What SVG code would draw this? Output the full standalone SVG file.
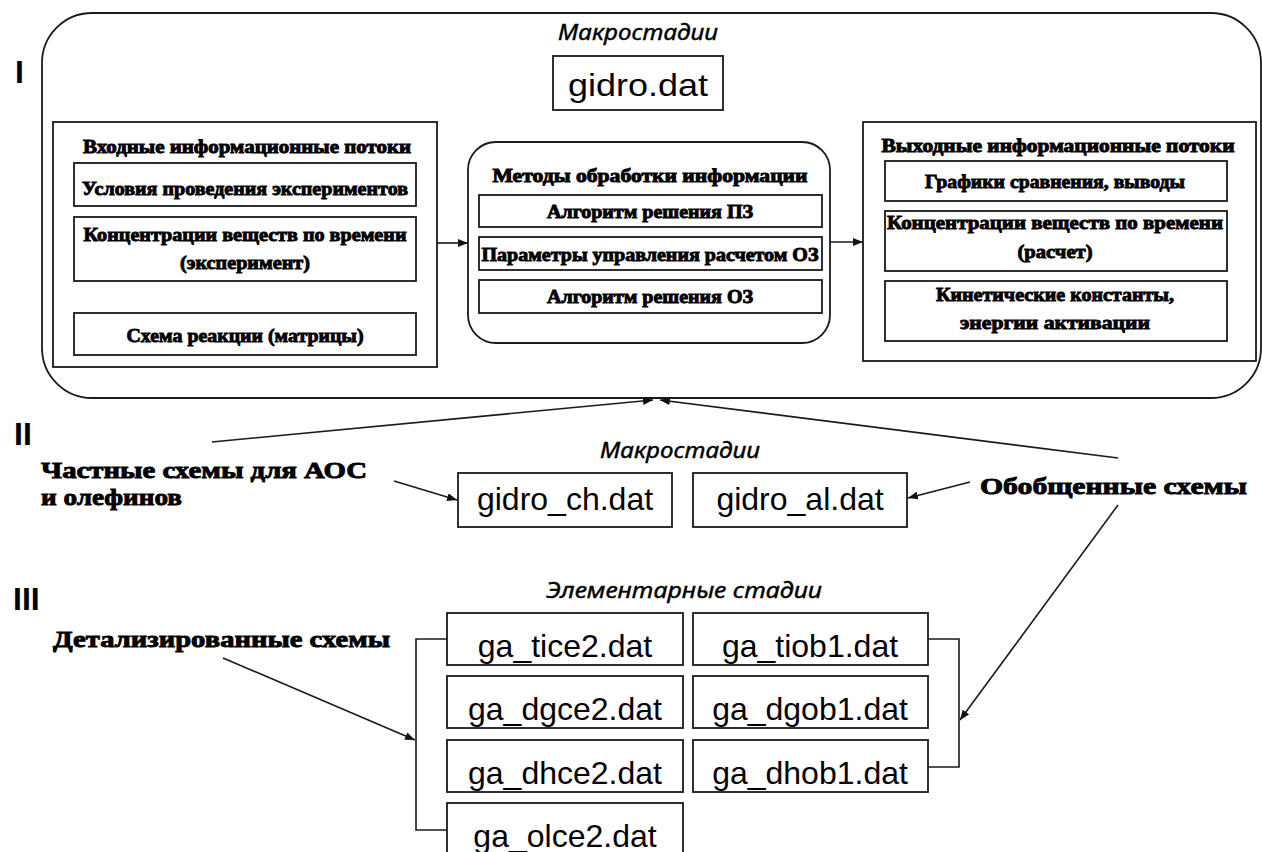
<svg xmlns="http://www.w3.org/2000/svg" width="1262" height="852" viewBox="0 0 1262 852">
<defs>
<marker id="ah" viewBox="0 0 10 8" refX="10" refY="4" markerWidth="10" markerHeight="8" markerUnits="userSpaceOnUse" orient="auto">
<path d="M0,0 L10,4 L0,8 Z" fill="#111"/>
</marker>
<style>
.box{fill:#fff;stroke:#1a1a1a;stroke-width:1.8}
.ln{fill:none;stroke:#1a1a1a;stroke-width:1.6}
.arr{fill:none;stroke:#1a1a1a;stroke-width:1.6;marker-end:url(#ah)}
.rb{font-family:"Liberation Serif","Times New Roman",serif;font-weight:bold;fill:#000;stroke:#000;stroke-width:0.9}
.fn{font-family:"Liberation Sans",Arial,sans-serif;font-size:32px;fill:#000}
.it{font-family:"Noto Sans","Liberation Sans",Arial,sans-serif;font-style:italic;font-size:21px;fill:#000;stroke:#000;stroke-width:0.4}
.num{font-family:"Liberation Sans",Arial,sans-serif;font-weight:bold;font-size:32px;fill:#000}
</style>
</defs>
<rect width="1262" height="852" fill="#fff"/>

<g id="levels">
<text class="num" x="15" y="83">I</text>
<text class="num" x="14" y="445">II</text>
<text class="num" x="13" y="610">III</text>
</g>

<g id="macro-top">
<rect class="box" x="42" y="13" width="1219" height="385" rx="50" ry="50"/>
<text class="it" x="638" y="40" text-anchor="middle" textLength="160" lengthAdjust="spacingAndGlyphs">Макростадии</text>
</g>

<g id="gidro">
<rect class="box" x="553" y="56" width="170" height="54"/>
<text class="fn" x="638" y="96" font-size="35" text-anchor="middle" textLength="140" lengthAdjust="spacingAndGlyphs">gidro.dat</text>
</g>

<g id="input">
<rect class="box" x="53" y="122" width="384" height="245"/>
<text class="rb" x="247" y="153" font-size="18" text-anchor="middle" textLength="328" lengthAdjust="spacingAndGlyphs">Входные информационные потоки</text>
<rect class="box" x="74" y="163" width="342" height="43"/>
<text class="rb" x="245" y="195" font-size="19" text-anchor="middle" textLength="326" lengthAdjust="spacingAndGlyphs">Условия проведения экспериментов</text>
<rect class="box" x="74" y="217" width="342" height="64"/>
<text class="rb" x="245" y="241" font-size="19" text-anchor="middle" textLength="323" lengthAdjust="spacingAndGlyphs">Концентрации веществ по времени</text>
<text class="rb" x="245" y="269" font-size="19" text-anchor="middle" textLength="130" lengthAdjust="spacingAndGlyphs">(эксперимент)</text>
<rect class="box" x="74" y="313" width="342" height="42"/>
<text class="rb" x="245" y="342" font-size="19" text-anchor="middle" textLength="237" lengthAdjust="spacingAndGlyphs">Схема реакции (матрицы)</text>
</g>

<g id="methods">
<rect class="box" x="468" y="142" width="362" height="201" rx="28" ry="28"/>
<text class="rb" x="650" y="182" font-size="18" text-anchor="middle" textLength="315" lengthAdjust="spacingAndGlyphs">Методы обработки информации</text>
<rect class="box" x="479" y="195" width="343" height="32"/>
<text class="rb" x="650" y="218" font-size="19" text-anchor="middle" textLength="206" lengthAdjust="spacingAndGlyphs">Алгоритм решения ПЗ</text>
<rect class="box" x="479" y="237" width="343" height="33"/>
<text class="rb" x="650" y="261" font-size="19" text-anchor="middle" textLength="337" lengthAdjust="spacingAndGlyphs">Параметры управления расчетом ОЗ</text>
<rect class="box" x="479" y="280" width="343" height="33"/>
<text class="rb" x="650" y="303" font-size="19" text-anchor="middle" textLength="206" lengthAdjust="spacingAndGlyphs">Алгоритм решения ОЗ</text>
</g>

<g id="output">
<rect class="box" x="863" y="122" width="393" height="239"/>
<text class="rb" x="1058" y="152" font-size="18" text-anchor="middle" textLength="353" lengthAdjust="spacingAndGlyphs">Выходные информационные потоки</text>
<rect class="box" x="885" y="161" width="342" height="40"/>
<text class="rb" x="1055" y="188" font-size="19" text-anchor="middle" textLength="260" lengthAdjust="spacingAndGlyphs">Графики сравнения, выводы</text>
<rect class="box" x="885" y="211" width="342" height="60"/>
<text class="rb" x="1055" y="229" font-size="19" text-anchor="middle" textLength="336" lengthAdjust="spacingAndGlyphs">Концентрации веществ по времени</text>
<text class="rb" x="1055" y="258" font-size="19" text-anchor="middle" textLength="75" lengthAdjust="spacingAndGlyphs">(расчет)</text>
<rect class="box" x="885" y="281" width="342" height="60"/>
<text class="rb" x="1055" y="301" font-size="19" text-anchor="middle" textLength="238" lengthAdjust="spacingAndGlyphs">Кинетические константы,</text>
<text class="rb" x="1055" y="329" font-size="19" text-anchor="middle" textLength="190" lengthAdjust="spacingAndGlyphs">энергии активации</text>
</g>

<g id="label-partial">
<text class="rb" x="41" y="478" font-size="24" textLength="326" lengthAdjust="spacingAndGlyphs">Частные схемы для АОС</text>
<text class="rb" x="41" y="505" font-size="24" textLength="141" lengthAdjust="spacingAndGlyphs">и олефинов</text>
</g>

<g id="label-general">
<text class="rb" x="980" y="494" font-size="24" textLength="267" lengthAdjust="spacingAndGlyphs">Обобщенные схемы</text>
</g>

<g id="label-detailed">
<text class="rb" x="53" y="647" font-size="24" textLength="337" lengthAdjust="spacingAndGlyphs">Детализированные схемы</text>
</g>

<g id="macro-level2">
<text class="it" x="680" y="458" text-anchor="middle" textLength="160" lengthAdjust="spacingAndGlyphs">Макростадии</text>
</g>

<g id="gidro_ch">
<rect class="box" x="458" y="473" width="214" height="54"/>
<text class="fn" x="565" y="510" text-anchor="middle">gidro_ch.dat</text>
</g>
<g id="gidro_al">
<rect class="box" x="693" y="473" width="214" height="54"/>
<text class="fn" x="800" y="510" text-anchor="middle">gidro_al.dat</text>
</g>

<g id="elem-title">
<text class="it" x="684" y="598" text-anchor="middle" textLength="276" lengthAdjust="spacingAndGlyphs">Элементарные стадии</text>
</g>

<g id="ga_tice2"><rect class="box" x="447" y="613" width="236" height="52"/><text class="fn" x="565" y="657" text-anchor="middle">ga_tice2.dat</text></g>
<g id="ga_dgce2"><rect class="box" x="447" y="676" width="236" height="52"/><text class="fn" x="565" y="720" text-anchor="middle">ga_dgce2.dat</text></g>
<g id="ga_dhce2"><rect class="box" x="447" y="740" width="236" height="52"/><text class="fn" x="565" y="784" text-anchor="middle">ga_dhce2.dat</text></g>
<g id="ga_olce2"><rect class="box" x="447" y="803" width="236" height="60"/><text class="fn" x="565" y="847" text-anchor="middle">ga_olce2.dat</text></g>
<g id="ga_tiob1"><rect class="box" x="693" y="613" width="235" height="52"/><text class="fn" x="810" y="657" text-anchor="middle">ga_tiob1.dat</text></g>
<g id="ga_dgob1"><rect class="box" x="693" y="676" width="235" height="52"/><text class="fn" x="810" y="720" text-anchor="middle">ga_dgob1.dat</text></g>
<g id="ga_dhob1"><rect class="box" x="693" y="740" width="235" height="52"/><text class="fn" x="810" y="784" text-anchor="middle">ga_dhob1.dat</text></g>

<g id="connectors">
<line class="arr" x1="437" y1="243" x2="468" y2="243"/>
<line class="arr" x1="830" y1="242" x2="863" y2="242"/>
<line class="arr" x1="212" y1="442" x2="653" y2="400"/>
<line class="arr" x1="1118" y1="458" x2="660" y2="400"/>
<line class="arr" x1="394" y1="481" x2="457" y2="500"/>
<line class="arr" x1="970" y1="482" x2="908" y2="498"/>
<line class="arr" x1="1118" y1="505" x2="960" y2="720"/>
<line class="arr" x1="223" y1="658" x2="415" y2="740"/>
<polyline class="ln" points="447,639 416,639 416,830 447,830"/>
<polyline class="ln" points="928,639 959,639 959,767 928,767"/>
</g>
</svg>
